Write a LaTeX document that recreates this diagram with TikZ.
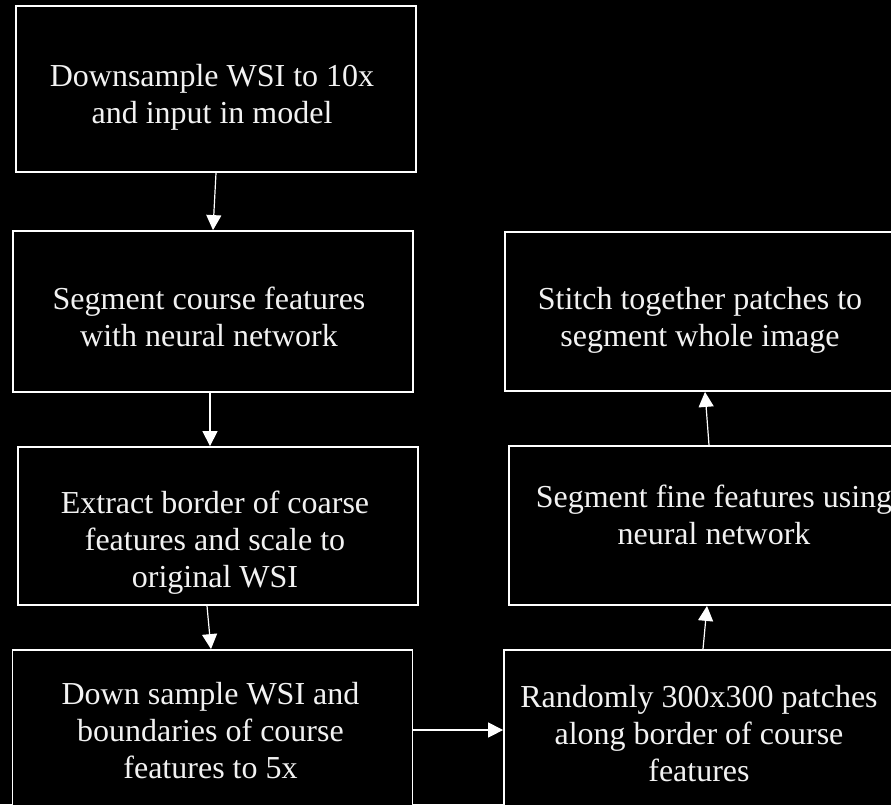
\documentclass[tikz,border=0pt]{standalone}
\usepackage{fontspec}
\setmainfont{Liberation Serif}
\usetikzlibrary{arrows.meta}

\begin{document}
\begin{tikzpicture}[x=1pt, y=-1pt,
    stage/.style={draw=white, line width=1.8pt, fill=black,
      minimum width=400pt, inner sep=0pt},
    words/.style={text=white!95!black, align=center, inner sep=0pt,
      font=\fontsize{32}{37}\selectfont},
    flow/.style={draw=white, line width=1.2pt, -{Triangle[length=15pt,width=15pt]}}]
  % background and frame of the page
  \fill[black] (0,0) rectangle (891,804);
  \useasboundingbox (0,0) rectangle (891,804);
  \clip (0,0) rectangle (891,804);
  % left column: coarse pass
  \node[stage, minimum height=166pt, label={[words, xshift=-4pt, yshift=-8pt]center:{Downsample WSI to 10x\\and input in model}}] (down10) at (216,89) {};
  \node[stage, minimum height=161pt, label={[words, xshift=-4pt, yshift=-5pt]center:{Segment course features\\with neural network}}] (coarse) at (213,311.5) {};
  \node[stage, minimum height=158pt, label={[words, xshift=-3pt, yshift=-17pt]center:{Extract border of coarse\\features and scale to\\original WSI}}] (border) at (218,526) {};
  \node[stage, minimum height=160pt, label={[words, xshift=-2pt, yshift=-1pt]center:{Down sample WSI and\\boundaries of course\\features to 5x}}] (down5) at (212.5,730) {};
  % right column: fine pass
  \node[stage, minimum height=160pt, label={[words, xshift=-5pt, yshift=-4pt]center:{Randomly 300x300 patches\\along border of course\\features}}] (patches) at (704,730) {};
  \node[stage, minimum height=159pt, minimum width=404pt, label={[words, xshift=3pt, yshift=11pt]center:{Segment fine features using\\neural network}}] (fine) at (711,525.5) {};
  \node[stage, minimum height=159pt, label={[words, xshift=-5pt, yshift=-9pt]center:{Stitch together patches to\\segment whole image}}] (stitch) at (705,311.5) {};
  % connectors
  \draw[flow] (down10.south) -- (coarse.north);
  \draw[flow] ([xshift=-3pt]coarse.south) -- ([xshift=-8pt]border.north);
  \draw[flow] ([xshift=-11pt]border.south) -- ([xshift=-1.5pt]down5.north);
  \draw[flow] (down5.east) -- (patches.west);
  \draw[flow] ([xshift=-1pt]patches.north) -- ([xshift=-4pt]fine.south);
  \draw[flow] ([xshift=-2pt]fine.north) -- (stitch.south);
\end{tikzpicture}
\end{document}
